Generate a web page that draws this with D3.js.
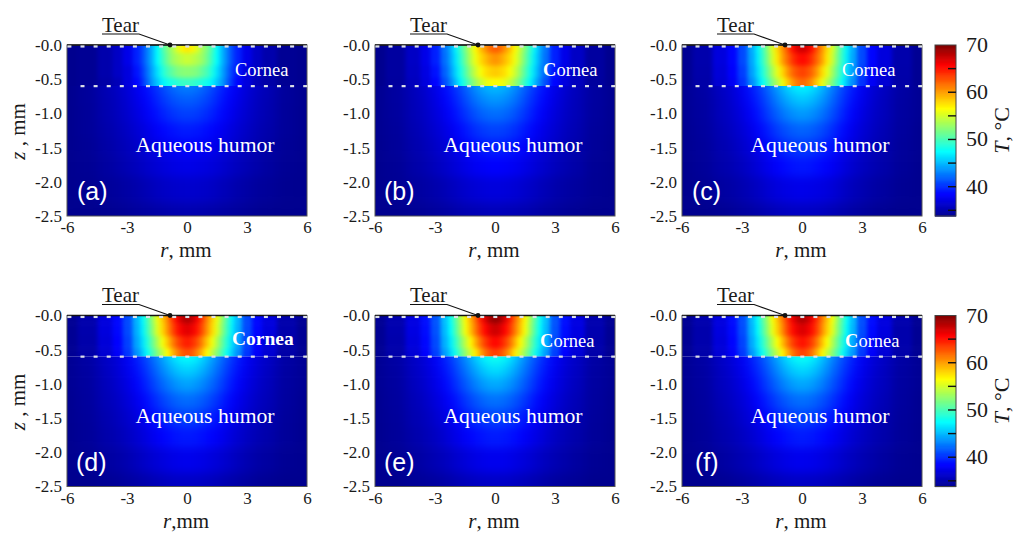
<!DOCTYPE html>
<html lang="en">
<head>
<meta charset="utf-8">
<script src="https://d3js.org/d3.v7.min.js"></script>
<style>
  html, body { margin: 0; padding: 0; background: white; }
  text { font-family: "Liberation Serif", serif; fill: #1a1a1a; }
</style>
</head>
<body>
<svg id="fig" width="1014" height="534"></svg>
<script>
// half profile, the field is the same on both sides of r = 0
var rValues = [0, .25, .5, .75, 1, 1.25, 1.5, 1.75, 2, 2.25, 2.5, 3, 3.5, 4, 5, 6];
var zCornea = [.03, .2, .4, .56];
var zHumor = [.62, .8, 1, 1.25, 1.5, 1.75, 2.1, 2.5];

var xTicks = [-6, -3, 0, 3, 6];
var zTicks = [0, .5, 1, 1.5, 2, 2.5];
var zTickLabels = ["-0.0", "-0.5", "-1.0", "-1.5", "-2.0", "-2.5"];
var barTicks = [35, 40, 45, 50, 55, 60, 65];
var barLabels = [40, 50, 60, 70];

var tempA = [
  [57.5,57,55.5,53.5,52,50,47.5,45,43,41,39.5,37.5,36,35,34,33.7],
  [54.8,54.4,53.8,53,51.5,49.5,47.5,45,43,41,39.5,37.5,36,35,34,33.7],
  [52.5,52.3,52,51,50,48.5,46.5,44.5,42.5,40.5,39,37,36,35,34,33.7],
  [49.5,49.5,49,48.5,48,47,45.5,44,42,40,38.5,37,35.5,34.8,34,33.7],
  [43,42.9,42.6,42.2,41.7,41,40.3,39.6,39,38.4,37.8,36.8,36,35.3,34.3,33.8],
  [41.8,41.7,41.5,41.2,40.8,40.3,39.7,39.1,38.5,38,37.5,36.6,35.8,35.2,34.3,33.8],
  [40.7,40.6,40.5,40.2,39.9,39.5,39,38.6,38.1,37.6,37.1,36.4,35.7,35.1,34.2,33.8],
  [39.4,39.3,39.2,39,38.8,38.5,38.2,37.8,37.4,37,36.6,36,35.4,34.9,34.2,33.8],
  [38.4,38.3,38.2,38.1,37.9,37.7,37.4,37.1,36.8,36.5,36.2,35.6,35.2,34.7,34.1,33.8],
  [37.5,37.4,37.3,37.2,37.1,36.9,36.7,36.5,36.2,36,35.7,35.3,34.9,34.5,34,33.7],
  [36.4,36.3,36.3,36.2,36.1,36,35.8,35.6,35.4,35.2,35,34.7,34.4,34.2,33.9,33.7],
  [35.2,35.2,35.1,35.1,35,34.9,34.8,34.7,34.6,34.5,34.4,34.2,34,33.9,33.7,33.6]
];
var tempB = [
  [62.5,62,60.5,58.8,56.8,54.5,52,49.5,47,44.5,42.5,39.5,37.5,36,34.5,33.8],
  [60.5,60,59,57.8,56,54,51.5,49,46.5,44.3,42.3,39.5,37.5,36,34.5,33.8],
  [58.5,58.2,57.6,56.3,54.8,52.8,50.5,48.2,46,43.8,41.8,39,37.2,35.9,34.5,33.8],
  [56.5,56.3,55.7,54.5,53,51.2,49.3,47.2,45,43,41,38.5,37,35.7,34.4,33.8],
  [45.2,45,44.7,44.2,43.5,42.7,41.8,41,40.2,39.4,38.7,37.5,36.5,35.6,34.5,33.9],
  [43.8,43.7,43.4,43,42.5,41.8,41,40.3,39.6,38.9,38.3,37.2,36.3,35.5,34.5,33.9],
  [42.4,42.3,42.1,41.8,41.3,40.8,40.2,39.6,39,38.4,37.8,36.9,36.1,35.4,34.4,33.9],
  [40.8,40.7,40.6,40.3,40,39.6,39.2,38.7,38.2,37.7,37.2,36.5,35.8,35.2,34.3,33.9],
  [39.5,39.4,39.3,39.1,38.9,38.6,38.3,37.9,37.5,37.1,36.7,36.1,35.5,35,34.2,33.8],
  [38.4,38.3,38.2,38.1,37.9,37.7,37.4,37.1,36.8,36.5,36.2,35.7,35.2,34.8,34.1,33.8],
  [37,37,36.9,36.8,36.7,36.5,36.3,36.1,35.9,35.6,35.4,35,34.7,34.4,34,33.7],
  [35.6,35.6,35.5,35.5,35.4,35.3,35.2,35.1,34.9,34.8,34.6,34.4,34.2,34,33.8,33.6]
];
var tempC = [
  [67.5,66.8,65.2,62.8,60.5,58,55.5,52.5,49.5,47,44.5,41,38.5,37,35,34],
  [65.5,65,63.8,62,60,57.5,55,52,49.3,46.8,44.3,41,38.5,37,35,34],
  [63.5,63,62,60.2,58,55.8,53.5,51,48.6,46.2,44,40.6,38.3,36.8,34.9,34],
  [62,61.5,60.2,58.3,56,54,52,49.7,47.6,45.4,43.3,40.2,38,36.6,34.8,34],
  [47.3,47,46.6,45.9,45,44,43,42,41,40.1,39.3,37.9,36.8,35.9,34.7,34],
  [45.6,45.4,45,44.5,43.8,43,42.1,41.2,40.4,39.6,38.8,37.6,36.6,35.7,34.6,34],
  [44,43.8,43.5,43.1,42.5,41.9,41.2,40.5,39.7,39,38.3,37.2,36.3,35.6,34.5,34],
  [42,41.9,41.7,41.4,41,40.5,40,39.4,38.8,38.2,37.6,36.7,36,35.3,34.4,33.9],
  [40.5,40.4,40.3,40,39.7,39.3,38.9,38.5,38,37.5,37,36.3,35.6,35.1,34.3,33.9],
  [39.2,39.1,39,38.8,38.6,38.3,38,37.6,37.2,36.8,36.4,35.8,35.3,34.9,34.2,33.8],
  [37.6,37.5,37.4,37.3,37.2,37,36.8,36.5,36.2,35.9,35.6,35.2,34.8,34.5,34,33.7],
  [36,36,35.9,35.9,35.8,35.6,35.5,35.3,35.1,34.9,34.7,34.5,34.2,34,33.8,33.6]
];
var tempD = [
  [68.5,67.8,66,63.8,61,58.5,56,53,50,47.3,44.8,41,38.6,37,35,34],
  [66.8,66.2,65,63,60.5,58,55.5,52.5,49.7,47,44.6,41,38.6,37,35,34],
  [64.8,64.2,63,61,58.6,56.2,53.8,51.2,48.8,46.4,44.2,40.7,38.4,36.8,34.9,34],
  [63,62.5,61,59,56.6,54.4,52.2,50,47.8,45.6,43.5,40.3,38.1,36.6,34.8,34],
  [47.7,47.4,47,46.2,45.2,44.2,43.2,42.2,41.2,40.3,39.4,38,36.9,36,34.7,34],
  [46,45.8,45.4,44.8,44,43.2,42.3,41.4,40.5,39.7,38.9,37.7,36.7,35.8,34.6,34],
  [44.3,44.1,43.8,43.3,42.7,42.1,41.3,40.6,39.8,39.1,38.4,37.3,36.4,35.6,34.5,34],
  [42.3,42.2,42,41.6,41.2,40.7,40.1,39.5,38.9,38.3,37.7,36.8,36,35.4,34.4,33.9],
  [40.7,40.6,40.4,40.2,39.8,39.4,39,38.6,38.1,37.6,37.1,36.3,35.7,35.1,34.3,33.9],
  [39.3,39.2,39.1,38.9,38.7,38.4,38.1,37.7,37.3,36.9,36.5,35.9,35.3,34.9,34.2,33.8],
  [37.7,37.6,37.5,37.4,37.2,37,36.8,36.5,36.3,36,35.7,35.2,34.8,34.5,34,33.7],
  [36,36,36,35.9,35.8,35.7,35.5,35.3,35.1,34.9,34.8,34.5,34.2,34,33.8,33.6]
];
var tempE = [
  [69.5,68.8,67,64.8,62,59.3,56.8,53.6,50.6,47.8,45.2,41.4,38.9,37.2,35.1,34],
  [67.5,66.9,65.6,63.8,61.4,58.8,56.2,53.2,50.2,47.5,45,41.3,38.8,37.2,35.1,34],
  [65.6,65,63.7,61.8,59.4,56.8,54.4,51.8,49.2,46.8,44.6,41,38.6,37,35,34],
  [63.6,63,61.7,59.7,57.2,55,52.8,50.5,48.2,46,43.9,40.6,38.3,36.7,34.9,34],
  [48.2,47.9,47.4,46.6,45.6,44.5,43.4,42.4,41.4,40.4,39.5,38.1,37,36,34.7,34],
  [46.4,46.2,45.8,45.1,44.3,43.4,42.5,41.6,40.7,39.8,39,37.8,36.7,35.9,34.6,34],
  [44.6,44.4,44.1,43.6,43,42.3,41.5,40.8,40,39.2,38.5,37.4,36.5,35.7,34.5,34],
  [42.5,42.4,42.2,41.8,41.4,40.8,40.3,39.6,39,38.4,37.8,36.9,36.1,35.4,34.4,33.9],
  [40.8,40.7,40.5,40.3,40,39.6,39.1,38.7,38.2,37.7,37.2,36.4,35.7,35.2,34.3,33.9],
  [39.4,39.3,39.2,39,38.8,38.5,38.1,37.8,37.4,37,36.6,35.9,35.4,34.9,34.2,33.8],
  [37.8,37.7,37.6,37.5,37.3,37.1,36.9,36.6,36.3,36,35.7,35.3,34.9,34.5,34,33.7],
  [36.1,36.1,36,36,35.9,35.7,35.6,35.4,35.2,35,34.8,34.5,34.3,34.1,33.8,33.6]
];
var tempF = [
  [68.5,67.8,66.2,64,61.4,58.8,56.4,53.3,50.4,47.6,45,41.2,38.8,37.1,35.1,34],
  [67,66.4,65.2,63.4,60.8,58.3,55.8,52.8,50,47.3,44.8,41.1,38.7,37.1,35,34],
  [65.2,64.6,63.4,61.4,58.9,56.5,54.1,51.5,49,46.6,44.4,40.8,38.5,36.9,35,34],
  [63.4,62.8,61.4,59.3,56.9,54.7,52.5,50.2,48,45.8,43.7,40.4,38.2,36.7,34.9,34],
  [48,47.7,47.2,46.4,45.4,44.4,43.3,42.3,41.3,40.4,39.5,38,37,36,34.7,34],
  [46.2,46,45.6,45,44.2,43.3,42.4,41.5,40.6,39.8,39,37.7,36.7,35.8,34.6,34],
  [44.5,44.3,44,43.5,42.9,42.2,41.4,40.7,39.9,39.2,38.4,37.3,36.4,35.7,34.5,34],
  [42.4,42.3,42.1,41.7,41.3,40.8,40.2,39.6,39,38.4,37.7,36.8,36.1,35.4,34.4,33.9],
  [40.8,40.7,40.5,40.2,39.9,39.5,39.1,38.6,38.1,37.6,37.1,36.4,35.7,35.1,34.3,33.9],
  [39.4,39.3,39.1,39,38.7,38.4,38.1,37.7,37.3,36.9,36.5,35.9,35.4,34.9,34.2,33.8],
  [37.7,37.7,37.6,37.4,37.3,37.1,36.8,36.6,36.3,36,35.7,35.3,34.9,34.5,34,33.7],
  [36.1,36,36,35.9,35.8,35.7,35.5,35.4,35.2,35,34.8,34.5,34.2,34,33.8,33.6]
];

var panelNames = ["(a)", "(b)", "(c)", "(d)", "(e)", "(f)"];
var panelTemps = [tempA, tempB, tempC, tempD, tempE, tempF];
var xTitles = [", mm", ", mm", ", mm", ",mm", ", mm", ", mm"];
var corneaStyle = ["plain", "firstBold", "plain", "bold", "firstBold", "firstBold"];

var width = 240, height = 171;
var panelLeft = [67, 375, 682, 67, 375, 682];
var panelTop = [45, 45, 45, 315.5, 315.5, 315.5];
var corneaX = [168, 168, 160, 165, 165, 163];
var letterX = [10, 9, 10, 9, 9, 13];
var barX = 935, barW = 21;
var tRange = [33.8, 70];

var jet = d3.scaleLinear()
  .domain([33.8, 38.4, 47.5, 56.6, 65.7, 70])
  .range(["#00008f", "#0000ff", "#00ffff", "#ffff00", "#ff0000", "#800000"])
  .clamp(true);

var x = d3.scaleLinear().domain([-6, 6]).range([0, width]);
var y = d3.scaleLinear().domain([0, 2.5]).range([0, height]);

var svg = d3.select("#fig");
var defs = svg.append("defs");

function softFilter(id, dev) {
  var f = defs.append("filter").attr("id", id)
    .attr("filterUnits", "userSpaceOnUse")
    .attr("x", -60).attr("y", -100).attr("width", width + 120).attr("height", height + 200)
    .attr("color-interpolation-filters", "sRGB");
  f.append("feGaussianBlur").attr("stdDeviation", dev);
}
softFilter("softCornea", "2.3 2");
softFilter("softHumor", "5.5 5");

defs.append("clipPath").attr("id", "clipCornea").append("rect")
  .attr("x", 0).attr("y", 0).attr("width", width).attr("height", y(.6));
defs.append("clipPath").attr("id", "clipHumor").append("rect")
  .attr("x", 0).attr("y", y(.6)).attr("width", width).attr("height", height - y(.6));

// edges halfway between samples, the outer ones pushed past the clip so the blur has no fringe
function edges(v, over) {
  var e = [v[0] - over];
  d3.pairs(v).forEach(function(p) { e.push((p[0] + p[1]) / 2); });
  e.push(v[v.length - 1] + over);
  return e;
}

function drawCells(g, rows, zs, clipId, filterId) {
  var zEdge = edges(zs, .6);
  var rEdge = edges(rValues, 1.5);
  rEdge[0] = 0;
  var cells = [];
  rows.forEach(function(row, j) {
    row.forEach(function(t, i) {
      // one cell on each side of the axis
      cells.push({x0: rEdge[i], x1: rEdge[i + 1], j: j, t: t});
      cells.push({x0: -rEdge[i + 1], x1: -rEdge[i], j: j, t: t});
    });
  });
  g.append("g").attr("clip-path", "url(#" + clipId + ")")
    .append("g").attr("filter", "url(#" + filterId + ")")
    .selectAll("rect").data(cells).enter().append("rect")
    .attr("x", function(d) { return x(d.x0); })
    .attr("y", function(d) { return y(zEdge[d.j]); })
    .attr("width", function(d) { return x(d.x1) - x(d.x0) + .5; })
    .attr("height", function(d) { return y(zEdge[d.j + 1]) - y(zEdge[d.j]) + .5; })
    .attr("fill", function(d) { return jet(d.t); });
}

function dots(g, zVal, x0) {
  g.append("g").selectAll("rect").data(d3.range(x0, width - 2, 13.1)).enter().append("rect")
    .attr("x", function(d) { return d; })
    .attr("y", y(zVal) - 1)
    .attr("width", 4).attr("height", 2.2)
    .attr("fill", "#dde1e8");
}

panelNames.forEach(function(name, p) {
  var g = svg.append("g").attr("transform", "translate(" + panelLeft[p] + "," + panelTop[p] + ")");
  var rows = panelTemps[p];

  drawCells(g, rows.slice(0, zCornea.length), zCornea, "clipCornea", "softCornea");
  drawCells(g, rows.slice(zCornea.length), zHumor, "clipHumor", "softHumor");

  g.append("rect").attr("width", width).attr("height", height)
    .attr("fill", "none").attr("stroke", "#555").attr("stroke-width", 1);
  g.append("line").attr("x1", 0).attr("x2", width).attr("stroke", "#111").attr("stroke-width", 1.4);

  dots(g, 0.02, .4);
  dots(g, .6, 13.5);

  var ax = g.append("g").attr("transform", "translate(0," + height + ")")
    .call(d3.axisBottom(x).tickValues(xTicks).tickSize(0).tickPadding(5).tickFormat(function(d) { return d; }));
  var ay = g.append("g")
    .call(d3.axisLeft(y).tickValues(zTicks).tickSize(0).tickPadding(5)
      .tickFormat(function(d, i) { return zTickLabels[i]; }));
  ax.select(".domain").remove();
  ay.select(".domain").remove();
  ax.selectAll("text").style("font-family", '"Liberation Serif"').style("font-size", "17px").attr("fill", "#1a1a1a");
  ay.selectAll("text").style("font-family", '"Liberation Serif"').style("font-size", "17px").attr("fill", "#1a1a1a");

  // r axis title
  var xt = g.append("text").attr("x", x(0) - 1).attr("y", height + 41)
    .attr("text-anchor", "middle").style("font-size", "21px");
  xt.append("tspan").style("font-style", "italic").text("r");
  xt.append("tspan").text(xTitles[p]);

  // z axis title only on the left column
  if (p % 3 === 0) {
    var yt = g.append("text")
      .attr("transform", "translate(-42," + (height / 2 + 1) + ") rotate(-90)")
      .attr("text-anchor", "middle").style("font-size", "21px");
    yt.append("tspan").style("font-style", "italic").text("z");
    yt.append("tspan").text(" , mm");
  }

  // annotations
  g.append("text").attr("x", 35).attr("y", -13.5).style("font-size", "21px").text("Tear");
  g.append("path").attr("d", "M35,-11H72L103,0").attr("fill", "none").attr("stroke", "#111").attr("stroke-width", 1.1);
  g.append("circle").attr("cx", 103).attr("cy", 0).attr("r", 2.4).attr("fill", "#111");

  var c = g.append("text").attr("x", corneaX[p]).attr("y", p === 3 ? 29.5 : 31)
    .style("font-size", p === 3 ? "19.5px" : "18.5px").style("fill", "white")
    .style("font-weight", corneaStyle[p] === "bold" ? "bold" : "normal");
  if (corneaStyle[p] === "firstBold") {
    c.append("tspan").style("font-weight", "bold").text("C");
    c.append("tspan").text("ornea");
  } else {
    c.text("Cornea");
  }
  g.append("text").attr("x", 138).attr("y", 107).attr("text-anchor", "middle")
    .style("font-size", "21.7px").style("fill", "white").text("Aqueous humor");
  g.append("text").attr("x", letterX[p]).attr("y", 155)
    .style("font-family", '"Liberation Sans"').style("font-size", "25px").style("fill", "white").text(name);
});

// colour bars
var tScale = d3.scaleLinear().domain([70, tRange[0]]).range([0, height]);
[45, 315.5].forEach(function(top) {
  var g = svg.append("g").attr("transform", "translate(" + barX + "," + top + ")");
  g.selectAll("rect.step").data(d3.range(tRange[0], 70, .1)).enter().append("rect")
    .attr("class", "step")
    .attr("x", 0).attr("width", barW)
    .attr("y", function(d) { return tScale(d + .1); })
    .attr("height", tScale(33.8) - tScale(33.9) + .6)
    .attr("fill", function(d) { return jet(d); });
  g.append("rect").attr("width", barW).attr("height", height)
    .attr("fill", "none").attr("stroke", "#444").attr("stroke-width", 1);
  g.selectAll("line.tk").data(barTicks).enter().append("line")
    .attr("class", "tk")
    .attr("x1", barW - 8).attr("x2", barW)
    .attr("y1", function(d) { return tScale(d); })
    .attr("y2", function(d) { return tScale(d); })
    .attr("stroke", "#111").attr("stroke-width", 1.4);
  g.selectAll("text.lab").data(barLabels).enter().append("text")
    .attr("class", "lab")
    .attr("x", barW + 10)
    .attr("y", function(d) { return tScale(d) + 7; })
    .style("font-size", "22px").text(function(d) { return d; });
  var t = g.append("text")
    .attr("transform", "translate(" + (barW + 53) + "," + (height / 2) + ") rotate(-90)")
    .attr("text-anchor", "middle").style("font-size", "22px");
  t.append("tspan").style("font-style", "italic").text("T");
  t.append("tspan").text(", °C");
});
</script>
</body>
</html>
